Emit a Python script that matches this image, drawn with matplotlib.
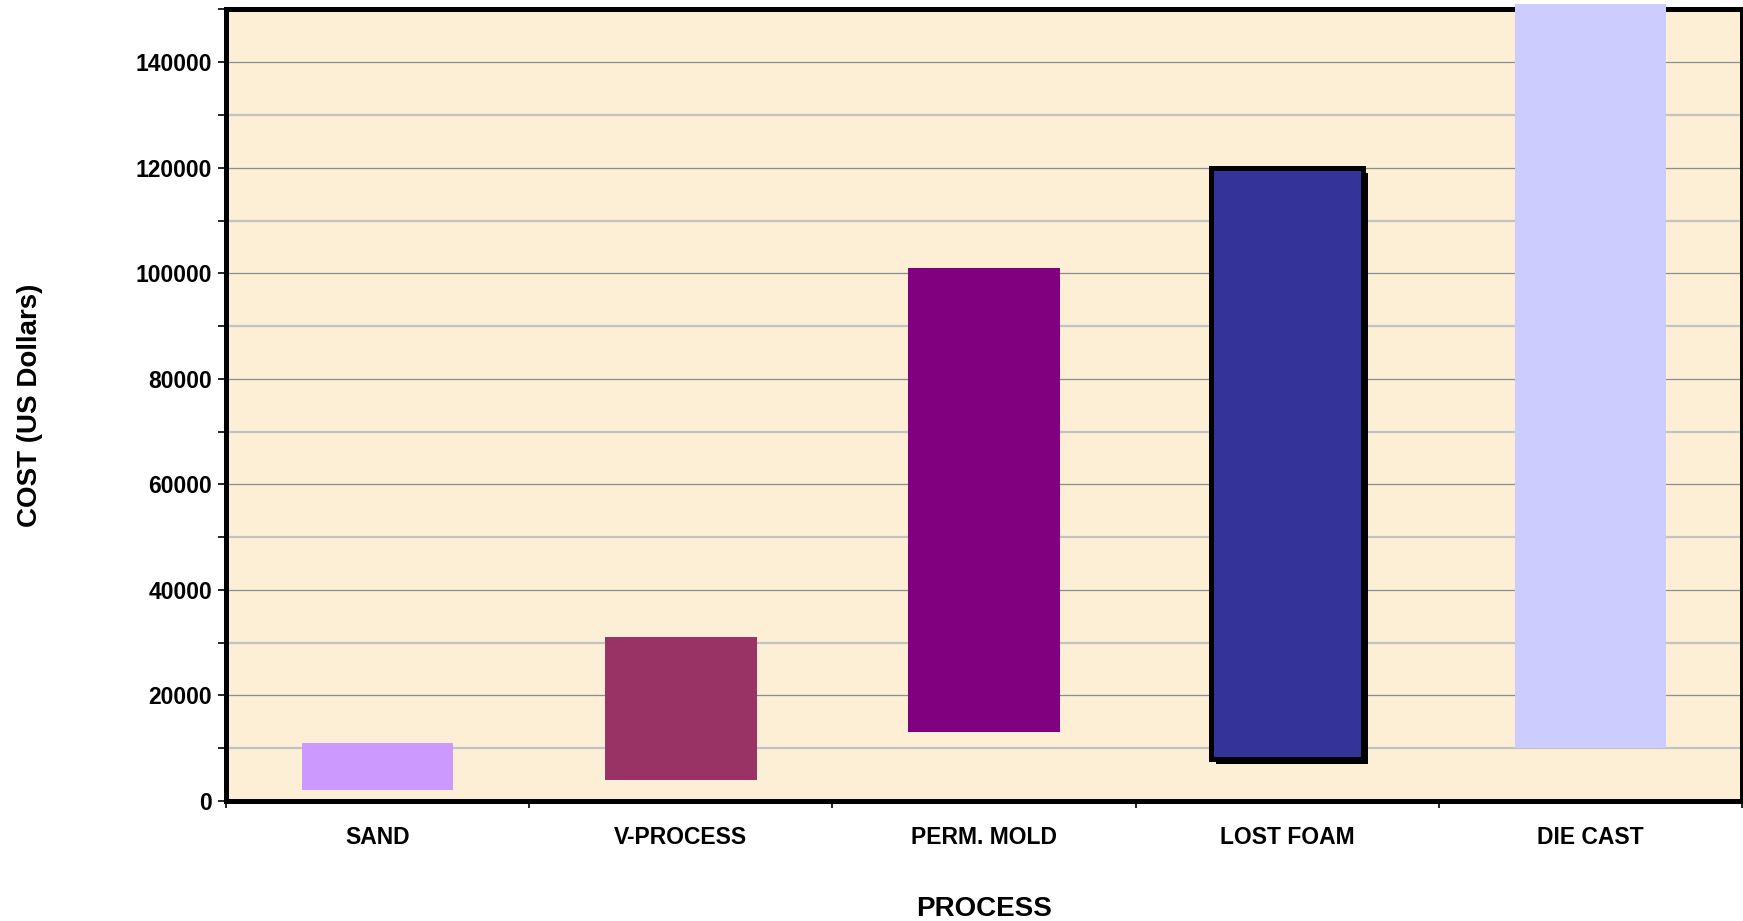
import numpy as np
import matplotlib.pyplot as plt
import matplotlib.patheffects as pe
from matplotlib.ticker import MultipleLocator, FixedLocator, NullFormatter

plt.rcParams['font.family'] = ['Liberation Sans', 'DejaVu Sans']
plt.rcParams['font.weight'] = 'bold'

# Data: floating cost ranges per casting process
processes = ['SAND', 'V-PROCESS', 'PERM. MOLD', 'LOST FOAM', 'DIE CAST']
cost_low = [2000, 4000, 13000, 8000, 10000]
cost_high = [11000, 31000, 101000, 120000, 151000]
colors = ['#CC99FF', '#993366', '#800080', '#333399', '#CCCCFF']

fig = plt.figure(figsize=(17.43, 9.21), dpi=100)
ax = fig.add_axes([0.1297, 0.1303, 0.8697, 0.8594])
ax.set_facecolor('#FCEFD6')

x = np.arange(len(processes))
heights = np.array(cost_high) - np.array(cost_low)

for i in range(len(processes)):
    if processes[i] == 'LOST FOAM':
        b = ax.bar(x[i], heights[i], bottom=cost_low[i], width=0.5, color=colors[i],
                   edgecolor='black', linewidth=3.6, zorder=3)
        b[0].set_path_effects([pe.SimplePatchShadow(offset=(3.6, -3.6), shadow_rgbFace='black', alpha=1.0),
                               pe.Normal()])
    else:
        ax.bar(x[i], heights[i], bottom=cost_low[i], width=0.5, color=colors[i],
               linewidth=0, zorder=3, clip_on=False)

ax.set_xlim(-0.5, len(processes) - 0.5)
ax.set_ylim(0, 150000)

# y ticks and grid
ax.yaxis.set_major_locator(MultipleLocator(20000))
ax.yaxis.set_minor_locator(MultipleLocator(10000))
ax.grid(axis='y', which='major', color='#8C8C8C', linewidth=0.9, zorder=0)
ax.grid(axis='y', which='minor', color='#C2C2C2', linewidth=1.6, zorder=0)
ax.set_axisbelow(True)
ax.tick_params(axis='y', which='both', direction='out', length=6, width=1.2, pad=4, labelsize=16.5)

# x ticks at category boundaries, labels at centres
ax.xaxis.set_major_locator(FixedLocator(np.arange(-0.5, len(processes), 1.0)))
ax.xaxis.set_major_formatter(NullFormatter())
ax.xaxis.set_minor_locator(FixedLocator(x))
ax.set_xticklabels(processes, minor=True)
ax.tick_params(axis='x', which='major', direction='out', length=5, width=1.2)
ax.tick_params(axis='x', which='minor', length=0, pad=18, labelsize=16.5)
ax.xaxis.grid(False, which='both')

for s in ax.spines.values():
    s.set_linewidth(3.6)
    s.set_color('black')

ax.set_xlabel('PROCESS', fontsize=20, fontweight='bold', labelpad=34)
fig.text(30 / 1743, 0.56, 'COST (US Dollars)', rotation=90, ha='center', va='center',
         fontsize=20, fontweight='bold')

fig.savefig('out.png', dpi=100)
